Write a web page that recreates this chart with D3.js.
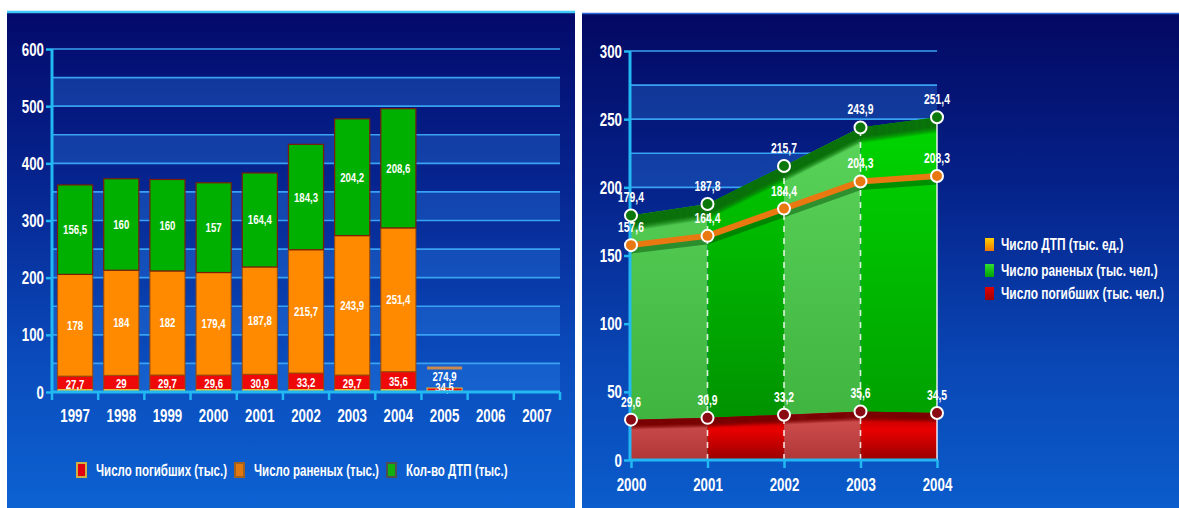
<!DOCTYPE html>
<html>
<head>
<meta charset="utf-8">
<script src="https://cdn.jsdelivr.net/npm/d3@7"></script>
<style>
  html, body { margin: 0; padding: 0; background: #ffffff; }
  svg { display: block; }
  text {
    font-family: 'Liberation Sans', Arial, 'DejaVu Sans', sans-serif;
    font-weight: bold;
    fill: #ffffff;
  }
</style>
</head>
<body>
<svg id="chart" width="1179" height="508"></svg>
<script>
// ---- Stacked bars: road accidents in Russia, 1997–2007 ----
const years      = ['1997', '1998', '1999', '2000', '2001', '2002', '2003', '2004', '2005', '2006', '2007'];
const barYears   = ['1997', '1998', '1999', '2000', '2001', '2002', '2003', '2004'];
const deaths     = [27.7, 29, 29.7, 29.6, 30.9, 33.2, 29.7, 35.6];      // тыс. погибших
const injured    = [178, 184, 182, 179.4, 187.8, 215.7, 243.9, 251.4];  // тыс. раненых
const accidents  = [156.5, 160, 160, 157, 164.4, 184.3, 204.2, 208.6];  // тыс. ДТП
const leftTicks  = [0, 100, 200, 300, 400, 500, 600];
const leftLegend = ['Число погибших (тыс.)', 'Число раненых (тыс.)', 'Кол-во ДТП (тыс.)'];

// 2005 column: only outline levels and their labels are shown
const stubYear   = '2005';
const stubLabels = [274.9, 34.5];
const stubLevels = [42, 7];

// ---- Area chart: 2000–2004 ----
const rYears     = ['2000', '2001', '2002', '2003', '2004'];
const rAccidents = [157.6, 164.4, 184.4, 204.3, 208.3];   // Число ДТП (тыс. ед.)
const rInjured   = [179.4, 187.8, 215.7, 243.9, 251.4];   // Число раненых (тыс. чел.)
const rDeaths    = [29.6, 30.9, 33.2, 35.6, 34.5];        // Число погибших (тыс. чел.)
const rightTicks = [0, 50, 100, 150, 200, 250, 300];
const rightLegend = ['Число ДТП (тыс. ед.)', 'Число раненых (тыс. чел.)', 'Число погибших (тыс. чел.)'];

const fmt = v => String(v).replace('.', ',');

// condensed lettering: horizontally squeeze text around its anchor point
function squeeze(sel, sx) {
  sel.each(function () {
    const t = d3.select(this);
    const x = +t.attr('x') || 0, y = +t.attr('y') || 0;
    t.attr('x', 0).attr('y', 0).attr('transform', `translate(${x},${y}) scale(${sx},1)`);
  });
}

const svg = d3.select('#chart');
const defs = svg.append('defs');

function vGrad(id, stops) {
  const g = defs.append('linearGradient').attr('id', id)
    .attr('x1', 0).attr('y1', 0).attr('x2', 0).attr('y2', 1);
  stops.forEach(([o, c]) => g.append('stop').attr('offset', o).attr('stop-color', c));
}
vGrad('bgL', [[0, '#03096a'], [0.35, '#062590'], [0.7, '#0a4bbc'], [1, '#0d62d2']]);
vGrad('bgR', [[0, '#030862'], [0.35, '#05228a'], [0.7, '#0946b4'], [1, '#0b5ccc']]);
vGrad('gLight', [[0, '#5cd65c'], [1, '#3cb03c']]);
vGrad('gDark', [[0, '#00d200'], [1, '#008a00']]);
vGrad('gBright', [[0, '#00d800'], [1, '#009800']]);
vGrad('rLight', [[0, '#d85454'], [1, '#b03636']]);
vGrad('rDark', [[0, '#a00000'], [0.45, '#e80000'], [1, '#980000']]);
vGrad('legOrange', [[0, '#ffd000'], [1, '#f07800']]);
vGrad('legGreen', [[0, '#30e030'], [1, '#00a000']]);
vGrad('legRed', [[0, '#e00000'], [1, '#a00000']]);

const colors = { deaths: '#ee0808', injured: '#ff8a00', accidents: '#00b000' };

// =================== LEFT PANEL ===================
svg.append('rect').attr('x', 7).attr('y', 11).attr('width', 568).attr('height', 497)
  .attr('fill', 'url(#bgL)');
svg.append('line').attr('x1', 7).attr('x2', 575).attr('y1', 12).attr('y2', 12)
  .attr('stroke', '#40c8f8').attr('stroke-width', 2.5);

const xL = d3.scaleBand().domain(years).range([52, 560]);
const yL = d3.scaleLinear().domain([0, 600]).range([392, 49]);
const gL = svg.append('g');

// alternating horizontal bands and gridlines
gL.selectAll('rect.band').data(d3.range(0, 600, 100)).join('rect')
  .attr('x', 52).attr('width', 508)
  .attr('y', d => yL(d + 50)).attr('height', d => yL(d) - yL(d + 50))
  .attr('fill', 'rgba(50,140,240,0.30)');
gL.selectAll('line.grid').data(d3.range(50, 601, 50)).join('line')
  .attr('x1', 52).attr('x2', 560).attr('y1', d => yL(d)).attr('y2', d => yL(d))
  .attr('stroke', '#3aa2f2').attr('stroke-width', 1.6);

// stacked bars
const rows = barYears.map((y, i) => ({ year: y, deaths: deaths[i], injured: injured[i], accidents: accidents[i] }));
const stack = d3.stack().keys(['deaths', 'injured', 'accidents'])(rows);
const bw = xL.bandwidth() * 0.76;
const bx = y => xL(y) + (xL.bandwidth() - bw) / 2;

stack.forEach(layer => {
  const key = layer.key;
  gL.selectAll('rect.seg-' + key).data(layer).join('rect')
    .attr('x', d => bx(d.data.year)).attr('width', bw)
    .attr('y', d => yL(d[1])).attr('height', d => yL(d[0]) - yL(d[1]))
    .attr('fill', colors[key])
    .attr('stroke', key === 'accidents' ? '#7a1e0a' : 'rgba(150,70,10,0.8)')
    .attr('stroke-width', 1.2);
});
// gold base line under each bar
gL.selectAll('line.base').data(barYears).join('line')
  .attr('x1', d => bx(d)).attr('x2', d => bx(d) + bw)
  .attr('y1', yL(0) - 2).attr('y2', yL(0) - 2)
  .attr('stroke', '#e0c040').attr('stroke-width', 2);

stack.forEach(layer => {
  gL.selectAll('text.lab-' + layer.key).data(layer).join('text')
    .attr('x', d => xL(d.data.year) + xL.bandwidth() / 2)
    .attr('y', d => (yL(d[0]) + yL(d[1])) / 2 + 4.5)
    .attr('text-anchor', 'middle').attr('font-size', 13)
    .text(d => fmt(d.data[layer.key]))
    .call(squeeze, 0.74);
});

// 2005 outline levels
gL.append('line')
  .attr('x1', bx(stubYear)).attr('x2', bx(stubYear) + bw)
  .attr('y1', yL(stubLevels[0])).attr('y2', yL(stubLevels[0]))
  .attr('stroke', '#c88a50').attr('stroke-width', 3);
gL.append('rect')
  .attr('x', bx(stubYear)).attr('width', bw)
  .attr('y', yL(stubLevels[1])).attr('height', yL(0) - yL(stubLevels[1]) - 1)
  .attr('fill', '#e80808').attr('stroke', '#e0c040').attr('stroke-width', 1);
gL.append('text').attr('x', xL(stubYear) + xL.bandwidth() / 2).attr('y', yL(stubLevels[0]) + 13)
  .attr('text-anchor', 'middle').attr('font-size', 13).text(fmt(stubLabels[0]))
  .call(squeeze, 0.74);
gL.append('text').attr('x', xL(stubYear) + xL.bandwidth() / 2).attr('y', yL(stubLevels[1]) + 4)
  .attr('text-anchor', 'middle').attr('font-size', 13).text(fmt(stubLabels[1]))
  .call(squeeze, 0.74);

// axes
function styleAxis(a) {
  a.select('.domain').attr('stroke', '#22b8f2').attr('stroke-width', 3);
  a.selectAll('.tick line').attr('stroke', '#22b8f2').attr('stroke-width', 2.5);
  a.selectAll('.tick text').attr('font-size', 19).attr('fill', '#fff')
    .attr('font-family', null).attr('font-weight', 'bold').call(squeeze, 0.7);
}
const axL = gL.append('g').attr('transform', 'translate(52,0)')
  .call(d3.axisLeft(yL).tickValues(leftTicks).tickSize(6).tickPadding(2).tickFormat(d3.format('d')));
const axLB = gL.append('g').attr('transform', 'translate(0,392)')
  .call(d3.axisBottom(xL).tickSize(0).tickPadding(16));
[axL, axLB].forEach(styleAxis);
axL.select('.domain').attr('d', 'M0,49V392');
axLB.select('.domain').attr('d', 'M52,0H560');
gL.selectAll('line.xtick').data(years.map(y => xL(y)).concat([560])).join('line')
  .attr('x1', d => d).attr('x2', d => d).attr('y1', 392).attr('y2', 400)
  .attr('stroke', '#22b8f2').attr('stroke-width', 2.5);

// legend
const legL = gL.append('g');
const legLx = [77, 235, 387];
const legLfill = ['#e00010', '#e07810', '#10b010'];
const legLstroke = ['#d0b040', '#a06020', '#505050'];
leftLegend.forEach((t, i) => {
  legL.append('rect').attr('x', legLx[i]).attr('y', 463).attr('width', 9).attr('height', 14)
    .attr('fill', legLfill[i]).attr('stroke', legLstroke[i]).attr('stroke-width', 2);
  legL.append('text').attr('x', legLx[i] + 19).attr('y', 476).attr('font-size', 16).text(t)
    .call(squeeze, 0.72);
});

// =================== RIGHT PANEL ===================
svg.append('rect').attr('x', 582).attr('y', 13).attr('width', 597).attr('height', 495)
  .attr('fill', 'url(#bgR)');
svg.append('line').attr('x1', 582).attr('x2', 1179).attr('y1', 13.5).attr('y2', 13.5)
  .attr('stroke', '#2a6ad8').attr('stroke-width', 1.5);

const xR = d3.scalePoint().domain(rYears).range([631, 937]);
const yR = d3.scaleLinear().domain([0, 300]).range([460, 51]);
const gR = svg.append('g');

gR.selectAll('rect.band').data(d3.range(0, 300, 50)).join('rect')
  .attr('x', 630).attr('width', 307)
  .attr('y', d => yR(d + 25)).attr('height', d => yR(d) - yR(d + 25))
  .attr('fill', 'rgba(50,140,240,0.30)');
gR.selectAll('line.grid').data(d3.range(25, 301, 25)).join('line')
  .attr('x1', 630).attr('x2', 937).attr('y1', d => yR(d)).attr('y2', d => yR(d))
  .attr('stroke', '#3aa2f2').attr('stroke-width', 1.6);

const idx = d3.range(rYears.length);
const px = i => xR(rYears[i]);

// green area (injured) with alternating columns
const areaGreen = d3.area().x(px).y0(yR(0)).y1(i => yR(rInjured[i]));
defs.append('clipPath').attr('id', 'clipGreen').append('path').attr('d', areaGreen(idx));
const greenCols = ['url(#gLight)', 'url(#gDark)', 'url(#gLight)', 'url(#gBright)'];
const gGreen = gR.append('g').attr('clip-path', 'url(#clipGreen)');
gGreen.selectAll('rect').data(d3.range(rYears.length - 1)).join('rect')
  .attr('x', i => px(i)).attr('width', i => px(i + 1) - px(i))
  .attr('y', yR(260)).attr('height', yR(0) - yR(260))
  .attr('fill', i => greenCols[i]);
// shaded rim along the top edge
const lineGreen = d3.line().x(px).y(i => yR(rInjured[i]));
d3.range(0, 16).forEach(k => {
  gGreen.append('path').attr('d', lineGreen(idx)).attr('transform', `translate(0,${k})`)
    .attr('fill', 'none').attr('stroke', '#0a700a').attr('stroke-width', 1.6)
    .attr('stroke-opacity', k < 9 ? 0.97 : 0.97 * (16 - k) / 7);
});

// red area (deaths)
const areaRed = d3.area().x(px).y0(yR(0)).y1(i => yR(rDeaths[i]));
defs.append('clipPath').attr('id', 'clipRed').append('path').attr('d', areaRed(idx));
const redCols = ['url(#rLight)', 'url(#rDark)', 'url(#rLight)', 'url(#rDark)'];
const gRed = gR.append('g').attr('clip-path', 'url(#clipRed)');
gRed.selectAll('rect').data(d3.range(rYears.length - 1)).join('rect')
  .attr('x', i => px(i)).attr('width', i => px(i + 1) - px(i))
  .attr('y', yR(40)).attr('height', yR(0) - yR(40))
  .attr('fill', i => redCols[i]);
const lineRed = d3.line().x(px).y(i => yR(rDeaths[i]));
d3.range(0, 10).forEach(k => {
  gRed.append('path').attr('d', lineRed(idx)).attr('transform', `translate(0,${k})`)
    .attr('fill', 'none').attr('stroke', '#780000').attr('stroke-width', 1.6)
    .attr('stroke-opacity', k < 5 ? 0.95 : 0.95 * (10 - k) / 5);
});

// orange line (accidents) with soft shadow
const lineOrange = d3.line().x(px).y(i => yR(rAccidents[i]));
gGreen.append('path').attr('d', lineOrange(idx)).attr('transform', 'translate(0,5)')
  .attr('fill', 'none').attr('stroke', 'rgba(0,70,0,0.45)').attr('stroke-width', 7);
gR.append('path').attr('d', lineOrange(idx))
  .attr('fill', 'none').attr('stroke', '#ea7810').attr('stroke-width', 6)
  .attr('stroke-linejoin', 'round');

// vertical dashed dividers and right edge
gR.selectAll('line.div').data(idx.slice(1)).join('line')
  .attr('x1', px).attr('x2', px).attr('y1', yR(0)).attr('y2', i => yR(rInjured[i]))
  .attr('stroke', 'rgba(255,255,255,0.85)').attr('stroke-width', 1.6)
  .attr('stroke-dasharray', i => i === rYears.length - 1 ? null : '6,6');

// axes
const axR = gR.append('g').attr('transform', 'translate(630,0)')
  .call(d3.axisLeft(yR).tickValues(rightTicks).tickSize(6).tickPadding(2).tickFormat(d3.format('d')));
const axRB = gR.append('g').attr('transform', 'translate(0,460)')
  .call(d3.axisBottom(xR).tickSize(8).tickPadding(9));
[axR, axRB].forEach(styleAxis);
axR.select('.domain').attr('d', 'M0,51V460');
axRB.select('.domain').attr('d', 'M630,0H937');

// markers and value labels
const series = [
  { vals: rInjured,   fill: '#0c780c' },
  { vals: rAccidents, fill: '#ea7810' },
  { vals: rDeaths,    fill: '#8a0a14' }
];
series.forEach(s => {
  gR.selectAll(null).data(idx).join('circle')
    .attr('cx', px).attr('cy', i => yR(s.vals[i])).attr('r', 6)
    .attr('fill', s.fill).attr('stroke', '#ffffff').attr('stroke-width', 2);
  gR.selectAll(null).data(idx).join('text')
    .attr('x', px).attr('y', i => yR(s.vals[i]) - 13)
    .attr('text-anchor', 'middle').attr('font-size', 14)
    .text(i => fmt(s.vals[i]))
    .call(squeeze, 0.74);
});

// legend
const legR = gR.append('g');
const legRfill = ['url(#legOrange)', 'url(#legGreen)', 'url(#legRed)'];
const legRy = [238, 264, 287];
rightLegend.forEach((t, i) => {
  legR.append('rect').attr('x', 985).attr('y', legRy[i]).attr('width', 9).attr('height', 13)
    .attr('fill', legRfill[i]);
  legR.append('text').attr('x', 1001).attr('y', legRy[i] + 12).attr('font-size', 17).text(t)
    .call(squeeze, 0.7);
});
</script>
</body>
</html>
